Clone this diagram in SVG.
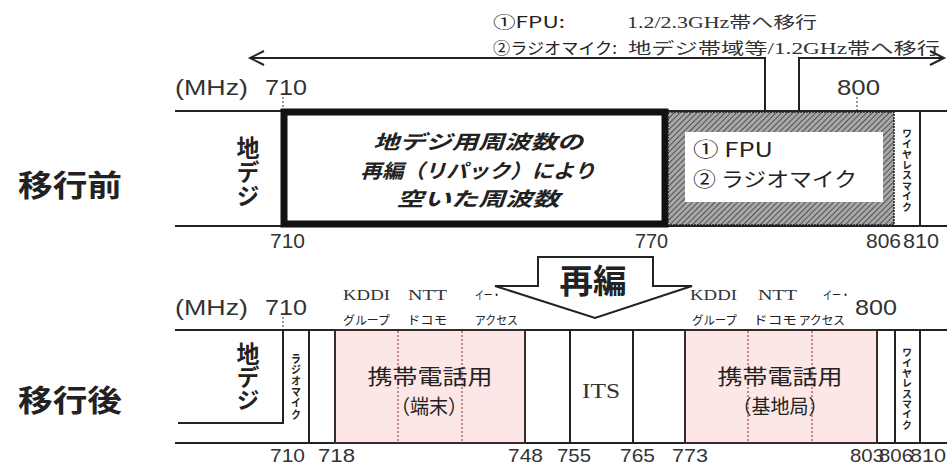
<svg xmlns="http://www.w3.org/2000/svg" width="947" height="467" viewBox="0 0 947 467">
<style>
.ln{stroke:#222;stroke-width:2;fill:none}
.dot{stroke:#555;stroke-width:1.2;stroke-dasharray:2,2;fill:none}
.pdot{stroke:#9a4a5a;stroke-width:1.2;stroke-dasharray:2,2;fill:none}
.g{font-family:"Noto Sans CJK JP","Noto Sans",sans-serif;fill:#222}
.m{font-family:"Liberation Serif","Noto Sans CJK JP",serif;fill:#333}
.n{font-family:"Liberation Sans","Noto Sans CJK JP",sans-serif;fill:#333}
.b{font-weight:bold}
.vt{writing-mode:vertical-rl;font-family:"Noto Sans CJK JP",sans-serif;font-weight:bold;font-size:10px;fill:#222}
.vb{writing-mode:vertical-rl;font-family:"Noto Sans CJK JP",sans-serif;font-weight:bold;font-size:23px;fill:#222}
.pink{fill:#fce6e6;stroke:#3a2a2a;stroke-width:2}
</style>
<defs>
<pattern id="hatch" patternUnits="userSpaceOnUse" width="4" height="4" patternTransform="rotate(45)">
<rect width="4" height="4" fill="#a8a8a8"/>
<line x1="0" y1="0" x2="0" y2="4" stroke="#3a3a3a" stroke-width="1.6"/>
</pattern>
<marker id="ah" markerUnits="userSpaceOnUse" markerWidth="18" markerHeight="16" refX="15" refY="8" orient="auto">
<path d="M1,1 L15,8 L1,15" fill="none" stroke="#222" stroke-width="2"/>
</marker>
</defs>
<rect width="947" height="467" fill="#fff"/>

<g id="labels-left">
<text class="g b" x="18" y="196" font-size="30" textLength="104" lengthAdjust="spacingAndGlyphs">移行前</text>
<text class="g b" x="18" y="411" font-size="30" textLength="104" lengthAdjust="spacingAndGlyphs">移行後</text>
</g>

<g id="note">
<text class="g" x="493" y="28" font-size="16" textLength="72" lengthAdjust="spacingAndGlyphs">①FPU:</text>
<text class="m" x="627" y="28" font-size="16" textLength="190" lengthAdjust="spacingAndGlyphs">1.2/2.3GHz帯へ移行</text>
<text class="g" x="493" y="54" font-size="16" textLength="124" lengthAdjust="spacingAndGlyphs">②ラジオマイク:</text>
<text class="m" x="628" y="54" font-size="16" textLength="312" lengthAdjust="spacingAndGlyphs">地デジ帯域等/1.2GHz帯へ移行</text>
</g>

<g id="connectors">
<polyline class="ln" points="765,111 765,58 250,58" marker-end="url(#ah)"/>
<polyline class="ln" points="799,111 799,58 944,58" marker-end="url(#ah)"/>
<line class="dot" x1="283" y1="97" x2="283" y2="111"/>
<line class="dot" x1="857" y1="97" x2="857" y2="111"/>
<line class="dot" x1="283" y1="317" x2="283" y2="330"/>
</g>

<g id="before-band">
<line class="ln" x1="175" y1="111" x2="947" y2="111"/>
<line class="ln" x1="175" y1="226" x2="947" y2="226"/>
<text class="vb" x="248" y="136" textLength="72" lengthAdjust="spacingAndGlyphs">地デジ</text>
<text class="n" x="175" y="95" font-size="22" textLength="73" lengthAdjust="spacingAndGlyphs">(MHz)</text>
<text class="n" x="265" y="95" font-size="22" textLength="42" lengthAdjust="spacingAndGlyphs">710</text>
<text class="n" x="837" y="95" font-size="22" textLength="43" lengthAdjust="spacingAndGlyphs">800</text>
</g>

<g id="before-freed">
<rect x="284" y="112" width="381" height="112" fill="#fff" stroke="#111" stroke-width="7"/>
<text class="g b" x="478" y="149" font-size="19.5" text-anchor="middle" font-style="italic" textLength="210" lengthAdjust="spacingAndGlyphs">地デジ用周波数の</text>
<text class="g b" x="478" y="177.5" font-size="19.5" text-anchor="middle" font-style="italic" textLength="235" lengthAdjust="spacingAndGlyphs">再編（リパック）により</text>
<text class="g b" x="478" y="206" font-size="19.5" text-anchor="middle" font-style="italic" textLength="163" lengthAdjust="spacingAndGlyphs">空いた周波数</text>
</g>

<g id="before-fpu">
<rect x="668" y="112" width="226" height="113" fill="url(#hatch)" stroke="#222" stroke-width="1.5" stroke-dasharray="2,1"/>
<rect x="685" y="132" width="198" height="70" fill="#fff"/>
<text class="g" x="693" y="157" font-size="20" textLength="80" lengthAdjust="spacingAndGlyphs">① FPU</text>
<text class="g" x="693" y="187" font-size="20" textLength="164" lengthAdjust="spacingAndGlyphs">② ラジオマイク</text>
</g>

<g id="before-wireless">
<line class="ln" x1="920" y1="111" x2="920" y2="226"/>
<text class="vt" x="907" y="128" textLength="84" lengthAdjust="spacingAndGlyphs">ワイヤレスマイク</text>
</g>

<g id="before-scale">
<text class="n" x="270" y="248" font-size="20" textLength="35" lengthAdjust="spacingAndGlyphs">710</text>
<text class="n" x="635" y="248" font-size="20" textLength="33" lengthAdjust="spacingAndGlyphs">770</text>
<text class="n" x="866" y="248" font-size="20" textLength="35" lengthAdjust="spacingAndGlyphs">806</text>
<text class="n" x="903" y="248" font-size="20" textLength="36" lengthAdjust="spacingAndGlyphs">810</text>
</g>

<g id="after-band">
<line class="ln" x1="175" y1="330" x2="947" y2="330"/>
<line class="ln" x1="175" y1="443" x2="947" y2="443"/>
<polyline class="ln" points="178,423 283,423 283,330"/>
<text class="vb" x="248" y="342" textLength="70" lengthAdjust="spacingAndGlyphs">地デジ</text>
<text class="n" x="175" y="315" font-size="22" textLength="73" lengthAdjust="spacingAndGlyphs">(MHz)</text>
<text class="n" x="265" y="315" font-size="22" textLength="42" lengthAdjust="spacingAndGlyphs">710</text>
</g>

<g id="after-radiomic">
<line class="ln" x1="309" y1="330" x2="309" y2="443"/>
<text class="vt" x="296" y="353" textLength="67" lengthAdjust="spacingAndGlyphs">ラジオマイク</text>
</g>

<g id="after-mobile-term">
<rect class="pink" x="335" y="330" width="190" height="113"/>
<line class="pdot" x1="398" y1="331" x2="398" y2="442"/>
<line class="pdot" x1="462" y1="331" x2="462" y2="442"/>
<text class="g" x="430" y="384" font-size="21" text-anchor="middle" textLength="125" lengthAdjust="spacingAndGlyphs">携帯電話用</text>
<text class="g" x="429" y="414" font-size="20" text-anchor="middle" textLength="76" lengthAdjust="spacingAndGlyphs">（端末）</text>
<text class="m" x="343" y="300" font-size="15" textLength="47" lengthAdjust="spacingAndGlyphs">KDDI</text>
<text class="g" x="343" y="325" font-size="12" textLength="47" lengthAdjust="spacingAndGlyphs">グループ</text>
<text class="m" x="408" y="300" font-size="15" textLength="39" lengthAdjust="spacingAndGlyphs">NTT</text>
<text class="g" x="407" y="325" font-size="12" textLength="40" lengthAdjust="spacingAndGlyphs">ドコモ</text>
<text class="g" x="475" y="300" font-size="12" textLength="26" lengthAdjust="spacingAndGlyphs">イー・</text>
<text class="g" x="475" y="325" font-size="12" textLength="43" lengthAdjust="spacingAndGlyphs">アクセス</text>
</g>

<g id="after-its">
<rect x="570" y="330" width="63" height="113" fill="#fff" stroke="#222" stroke-width="2"/>
<text class="m" x="601" y="398" font-size="22" text-anchor="middle" textLength="38" lengthAdjust="spacingAndGlyphs">ITS</text>
</g>

<g id="after-mobile-base">
<rect class="pink" x="685" y="330" width="192" height="113"/>
<line class="pdot" x1="748" y1="331" x2="748" y2="442"/>
<line class="pdot" x1="812" y1="331" x2="812" y2="442"/>
<text class="g" x="780" y="384" font-size="21" text-anchor="middle" textLength="125" lengthAdjust="spacingAndGlyphs">携帯電話用</text>
<text class="g" x="780" y="414" font-size="20" text-anchor="middle" textLength="95" lengthAdjust="spacingAndGlyphs">（基地局）</text>
<text class="m" x="690" y="300" font-size="15" textLength="47" lengthAdjust="spacingAndGlyphs">KDDI</text>
<text class="g" x="692" y="325" font-size="12" textLength="45" lengthAdjust="spacingAndGlyphs">グループ</text>
<text class="m" x="758" y="300" font-size="15" textLength="39" lengthAdjust="spacingAndGlyphs">NTT</text>
<text class="g" x="753" y="325" font-size="12" textLength="44" lengthAdjust="spacingAndGlyphs">ドコモ</text>
<text class="g" x="823" y="300" font-size="12" textLength="27" lengthAdjust="spacingAndGlyphs">イー・</text>
<text class="g" x="799" y="325" font-size="12" textLength="46" lengthAdjust="spacingAndGlyphs">アクセス</text>
<text class="n" x="855" y="315" font-size="22" textLength="42" lengthAdjust="spacingAndGlyphs">800</text>
</g>

<g id="after-wireless">
<rect x="895" y="330" width="25" height="113" fill="#fff" stroke="#222" stroke-width="2"/>
<text class="vt" x="907" y="347" textLength="83" lengthAdjust="spacingAndGlyphs">ワイヤレスマイク</text>
</g>

<g id="after-scale">
<text class="n" x="270" y="462" font-size="19" textLength="35" lengthAdjust="spacingAndGlyphs">710</text>
<text class="n" x="318" y="462" font-size="19" textLength="37" lengthAdjust="spacingAndGlyphs">718</text>
<text class="n" x="508" y="462" font-size="19" textLength="35" lengthAdjust="spacingAndGlyphs">748</text>
<text class="n" x="557" y="462" font-size="19" textLength="34" lengthAdjust="spacingAndGlyphs">755</text>
<text class="n" x="620" y="462" font-size="19" textLength="35" lengthAdjust="spacingAndGlyphs">765</text>
<text class="n" x="672" y="462" font-size="19" textLength="36" lengthAdjust="spacingAndGlyphs">773</text>
<text class="n" x="850" y="462" font-size="19" textLength="34" lengthAdjust="spacingAndGlyphs">803</text>
<text class="n" x="879" y="462" font-size="19" textLength="34" lengthAdjust="spacingAndGlyphs">806</text>
<text class="n" x="910" y="462" font-size="19" textLength="36" lengthAdjust="spacingAndGlyphs">810</text>
</g>

<g id="reorg-arrow">
<polygon points="495,286 538,286 538,257 653,257 653,286 692,286 595,318" fill="#fff" stroke="#222" stroke-width="2" stroke-linejoin="miter"/>
<text class="g b" x="593" y="293" font-size="33" text-anchor="middle" textLength="67" lengthAdjust="spacingAndGlyphs">再編</text>
</g>
</svg>
